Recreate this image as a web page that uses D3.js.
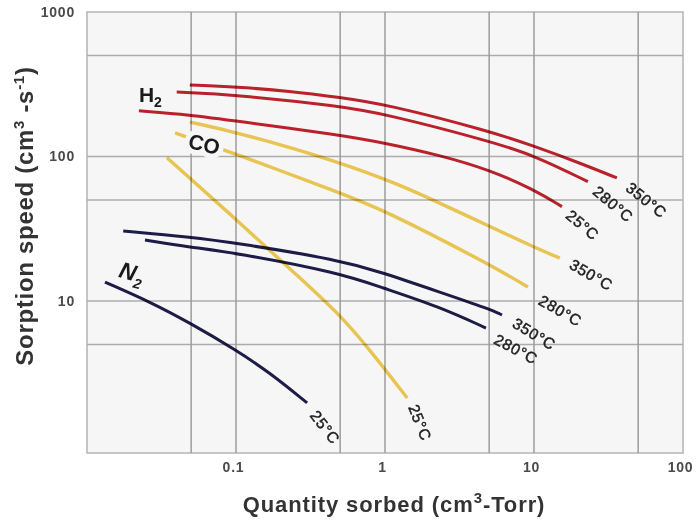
<!DOCTYPE html>
<html>
<head>
<meta charset="utf-8">
<script src="https://cdn.jsdelivr.net/npm/d3@7"></script>
<style>
body { margin: 0; background: #fff; }
svg { display: block; font-family: "Liberation Sans", Arial, Helvetica, sans-serif; }
</style>
</head>
<body>
<svg id="chart" width="697" height="520"></svg>
<script>
(function() {
'use strict';

// quantity sorbed (cm3-Torr) / sorption speed (cm3/s)
var h2Qty350 = [0.049, 0.1, 0.23, 0.5, 1, 5, 10, 20.4, 36];
var h2Speed350 = [313, 303, 284, 256, 231, 150, 118, 90, 71];
var h2Qty280 = [0.040, 0.1, 0.5, 1, 5, 10, 23];
var h2Speed280 = [279, 267, 223, 197, 128, 102, 67];
var h2Qty25 = [0.0223, 0.049, 0.1, 0.5, 1, 2.34, 5, 10, 15.4];
var h2Speed25 = [207, 194, 176, 141, 124, 102, 81, 59, 45];

var coQty350 = [0.049, 0.1, 0.5, 1.26, 2.1, 5, 10, 14.9];
var coSpeed350 = [173, 148, 91.6, 63.5, 50, 33, 23.6, 19.8];
var coQty280 = [0.039, 0.0955, 0.5, 0.925, 5, 9.1];
var coSpeed280 = [145.5, 106, 55.9, 44, 18, 12.5];
var coQty25 = [0.0344, 0.103, 0.269, 0.5, 0.792, 1.41];
var coSpeed25 = [98, 35.8, 14.4, 8.0, 4.58, 2.13];

var n2Qty350 = [0.0175, 0.049, 0.1, 0.5, 0.925, 2.34, 5, 6.1];
var n2Speed350 = [30.5, 27.7, 25.2, 19.2, 15.9, 11.5, 8.8, 8.0];
var n2Qty280 = [0.0245, 0.049, 0.1, 0.5, 0.925, 2.34, 4.76];
var n2Speed280 = [26.4, 23.6, 21.5, 15.6, 12.5, 9.1, 6.5];
var n2Qty25 = [0.0132, 0.0265, 0.049, 0.1, 0.169, 0.30];
var n2Speed25 = [13.5, 9.85, 7.05, 4.58, 3.18, 1.97];

var xTicks = [0.1, 1, 10, 100];
var xTickLabels = ['0.1', '1', '10', '100'];
var yTicks = [10, 100, 1000];
var yTickLabels = ['10', '100', '1000'];
var xGrid = [0.05, 0.1, 0.5, 1, 5, 10, 50];
var yGrid = [5, 10, 50, 100, 500];

var colors = { H2: '#c1232c', CO: '#f1cb55', N2: '#1d1d48' };

var series = [
    { gas: 'H2', temp: '350°C', x: h2Qty350, y: h2Speed350 },
    { gas: 'H2', temp: '280°C', x: h2Qty280, y: h2Speed280 },
    { gas: 'H2', temp: '25°C', x: h2Qty25, y: h2Speed25 },
    { gas: 'N2', temp: '350°C', x: n2Qty350, y: n2Speed350 },
    { gas: 'N2', temp: '280°C', x: n2Qty280, y: n2Speed280 },
    { gas: 'N2', temp: '25°C', x: n2Qty25, y: n2Speed25 },
    { gas: 'CO', temp: '350°C', x: coQty350, y: coSpeed350 },
    { gas: 'CO', temp: '280°C', x: coQty280, y: coSpeed280 },
    { gas: 'CO', temp: '25°C', x: coQty25, y: coSpeed25 }
];

// end label placement (offset from the curve end, rotation)
var endLabelStyle = [
    { dx: 15, dy: 3, angle: 39 },
    { dx: 11, dy: 3, angle: 40 },
    { dx: 10, dy: 2, angle: 40 },
    { dx: 15, dy: 2, angle: 31 },
    { dx: 12, dy: 5, angle: 28 },
    { dx: 11, dy: 6, angle: 52 },
    { dx: 14, dy: 0, angle: 30 },
    { dx: 15, dy: 7, angle: 30 },
    { dx: 11, dy: 5, angle: 68 }
];

var svg = d3.select('#chart');

var x = d3.scaleLog().domain([0.01, 100]).range([87, 683]);
var y = d3.scaleLog().domain([0.887, 1000]).range([453, 12]);

svg.append('rect')
    .attr('x', x.range()[0]).attr('y', y.range()[1])
    .attr('width', x.range()[1] - x.range()[0])
    .attr('height', y.range()[0] - y.range()[1])
    .attr('fill', '#f6f6f6')
    .attr('stroke', '#b4b4b4')
    .attr('stroke-width', 1.5);

svg.append('g').selectAll('line')
    .data(yGrid)
    .enter().append('line')
    .attr('x1', x.range()[0]).attr('x2', x.range()[1])
    .attr('y1', function(d) { return y(d); })
    .attr('y2', function(d) { return y(d); })
    .attr('stroke', '#acacac')
    .attr('stroke-width', 1.3);

svg.append('g').selectAll('line')
    .data(xGrid)
    .enter().append('line')
    .attr('y1', y.range()[0]).attr('y2', y.range()[1])
    .attr('x1', function(d) { return x(d); })
    .attr('x2', function(d) { return x(d); })
    .attr('stroke', '#9c9c9c')
    .attr('stroke-width', 1.5);

// axes
var xAxis = svg.append('g')
    .attr('transform', 'translate(0,453)')
    .call(d3.axisBottom(x).tickValues(xTicks).tickSize(0).tickPadding(9)
        .tickFormat(function(d, i) { return xTickLabels[i]; }));
var yAxis = svg.append('g')
    .attr('transform', 'translate(87,0)')
    .call(d3.axisLeft(y).tickValues(yTicks).tickSize(0).tickPadding(12)
        .tickFormat(function(d, i) { return yTickLabels[i]; }));
[xAxis, yAxis].forEach(function(g) {
    g.select('.domain').remove();
    g.selectAll('text')
        .attr('font-family', '"Liberation Sans", Arial, sans-serif')
        .attr('font-size', 14)
        .attr('font-weight', 'bold')
        .attr('letter-spacing', 0.8)
        .attr('fill', '#4a4a4a');
});
xAxis.selectAll('text').attr('dx', -3);

// curves
var line = d3.line()
    .x(function(d) { return x(d[0]); })
    .y(function(d) { return y(d[1]); })
    .curve(d3.curveBasis);

svg.append('g').selectAll('path')
    .data(series)
    .enter().append('path')
    .attr('d', function(s) {
        return line(s.x.map(function(v, i) { return [v, s.y[i]]; }));
    })
    .attr('fill', 'none')
    .attr('stroke', function(s) { return colors[s.gas]; })
    .attr('stroke-width', function(s) { return s.gas === 'CO' ? 3.4 : 3; })
    .attr('stroke-linecap', 'butt')
    .style('mix-blend-mode', 'multiply');

// temperature labels at curve ends
svg.append('g').selectAll('text')
    .data(series)
    .enter().append('text')
    .attr('transform', function(s, i) {
        var n = s.x.length - 1;
        var st = endLabelStyle[i];
        return 'translate(' + (x(s.x[n]) + st.dx) + ',' + (y(s.y[n]) + st.dy) + ') rotate(' + st.angle + ')';
    })
    .attr('dy', '0.72em')
    .attr('font-size', 15.5)
    .attr('letter-spacing', 0.7)
    .attr('fill', '#1e1e1e')
    .attr('stroke', '#1e1e1e')
    .attr('stroke-width', 0.45)
    .text(function(s) { return s.temp; });

// gas labels
var h2Label = svg.append('text')
    .attr('x', x(0.0223)).attr('y', y(238))
    .attr('font-size', 21).attr('font-weight', 'bold').attr('fill', '#1a1a1a');
h2Label.append('tspan').text('H');
h2Label.append('tspan').attr('font-size', 14).attr('dy', 5).text('2');

svg.append('text')
    .attr('transform', 'translate(' + x(0.047) + ',' + y(115) + ') rotate(13)')
    .attr('font-size', 21).attr('font-weight', 'bold').attr('fill', '#1a1a1a')
    .attr('stroke', '#f6f6f6').attr('stroke-width', 10).attr('paint-order', 'stroke')
    .text('CO');

var n2Label = svg.append('text')
    .attr('transform', 'translate(' + x(0.0161) + ',' + y(14.7) + ') rotate(16)')
    .attr('font-size', 23).attr('font-weight', 'bold').attr('font-style', 'italic')
    .attr('fill', '#1a1a1a');
n2Label.append('tspan').text('N');
n2Label.append('tspan').attr('font-size', 14).attr('dy', 6).text('2');

// axis titles
var xt = svg.append('text')
    .attr('x', 394).attr('y', 512)
    .attr('text-anchor', 'middle')
    .attr('font-size', 22).attr('font-weight', 'bold')
    .attr('letter-spacing', 0.9)
    .attr('fill', '#333');
xt.append('tspan').text('Quantity sorbed (cm');
xt.append('tspan').attr('font-size', 15).attr('dy', -9).text('3');
xt.append('tspan').attr('dy', 9).text('-Torr)');

var yt = svg.append('text')
    .attr('transform', 'translate(33,216) rotate(-90)')
    .attr('text-anchor', 'middle')
    .attr('font-size', 24).attr('font-weight', 'bold')
    .attr('letter-spacing', 0.7)
    .attr('fill', '#333');
yt.append('tspan').text('Sorption speed (cm');
yt.append('tspan').attr('font-size', 15).attr('dy', -9).text('3');
yt.append('tspan').attr('dy', 9).text(' -s');
yt.append('tspan').attr('font-size', 15).attr('dy', -9).text('-1');
yt.append('tspan').attr('dy', 9).text(')');

})();
</script>
</body>
</html>
